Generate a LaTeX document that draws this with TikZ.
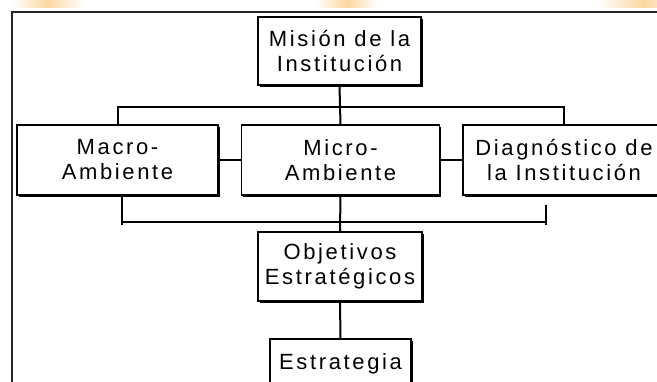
\documentclass[tikz,border=0pt]{standalone}
\usepackage{fontspec}
\setmainfont{Liberation Sans}[LetterSpace=12]
\usetikzlibrary{positioning,shadows}
\definecolor{peach}{RGB}{252,216,160}

\tikzset{
    blk/.style={draw, fill=white, line width=1.8pt, align=center, inner sep=0pt,
        font=\fontsize{22}{25}\selectfont,
        drop shadow={shadow xshift=1.8pt, shadow yshift=-1.8pt, fill=black, opacity=1}},
    lnk/.style={line width=2pt},
    frm/.style={line width=2.4pt, black!85},
}

\begin{document}
\begin{tikzpicture}[x=1pt, y=-1pt]
    \clip (0,0) rectangle (657,381);
    \fill[white] (0,0) rectangle (657,381);
    \foreach \a/\b in {12/84, 316/378, 598/690}
    \shade[left color=white, right color=white, middle color=peach] (\a,0) rectangle (\b,7);
    \draw[frm] (12,400) |- (680,12);

    \node[blk, minimum width=163pt, minimum height=68pt] (mision) at (339.5,51) {Misión de la\\Institución};
    \node[blk, minimum width=201pt, minimum height=70pt] (macro) at (117.5,160) {Macro-\\Ambiente};
    \node[blk, minimum width=198pt, minimum height=70pt] (micro) at (340.5,160) {Micro-\\Ambiente};
    \node[blk, minimum width=202pt, minimum height=70pt] (diag) at (564,160) {Diagnóstico de\\la Institución};
    \node[blk, minimum width=164pt, minimum height=69pt] (objet) at (340,266.5) {Objetivos\\Estratégicos};
    \node[blk, minimum width=141pt, minimum height=50pt] (estr) at (340.5,364) {Estrategia};

    \coordinate (tbus) at (340,107);
    \coordinate (lbus) at (340,222);
    \coordinate (lend) at (122,225);
    \coordinate (rend) at (546,225);

    \draw[lnk] (macro.north) |- (tbus) -| (diag.north);
    \draw[lnk] (mision.south) -- (micro.north);
    \draw[lnk] (macro.east) -- (micro.west);
    \draw[lnk] (micro.east) -- (diag.west);
    \draw[lnk] (lend |- macro.south) -- (lend);
    \draw[lnk] (rend) -- ++(0,-20);
    \draw[lnk] (lend |- lbus) -- (rend |- lbus);
    \draw[lnk] (micro.south) -- (objet.north);
    \draw[lnk] (objet.south) -- (estr.north);
\end{tikzpicture}
\end{document}
